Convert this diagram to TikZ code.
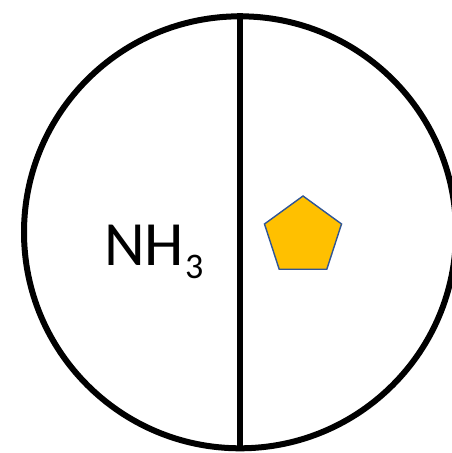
\documentclass[tikz,border=0pt]{standalone}
\usepackage{fontspec}
\setmainfont{Carlito}
\usetikzlibrary{shapes.geometric}
\definecolor{penfill}{HTML}{FFC000}
\definecolor{penline}{HTML}{2F5597}
\tikzset{
  ring/.style={circle, draw=black, line width=6pt, minimum size=432pt, inner sep=0pt},
  divider/.style={draw=black, line width=5.4pt},
  penta/.style={regular polygon, regular polygon sides=5, fill=penfill, draw=penline, line width=1.4pt, minimum size=81pt, inner sep=0pt},
  label/.style={inner sep=0pt, anchor=base west, font=\fontsize{63}{63}\selectfont}
}
\begin{document}
\begin{tikzpicture}[x=1pt, y=-1pt]
\useasboundingbox (0,0) rectangle (452,453);
\clip (0,0) rectangle (452,453);
\fill[white] (0,0) rectangle (452,453);
\node[ring] (c) at (240,232.3) {};
\draw[divider] (c.north) -- (c.south);
\node[penta] (p) at (303,236.5) {};
\node[label] (t) at (104,265) {NH\kern1pt\raisebox{-13.5pt}{\fontsize{36}{36}\selectfont 3}};
\end{tikzpicture}
\end{document}
